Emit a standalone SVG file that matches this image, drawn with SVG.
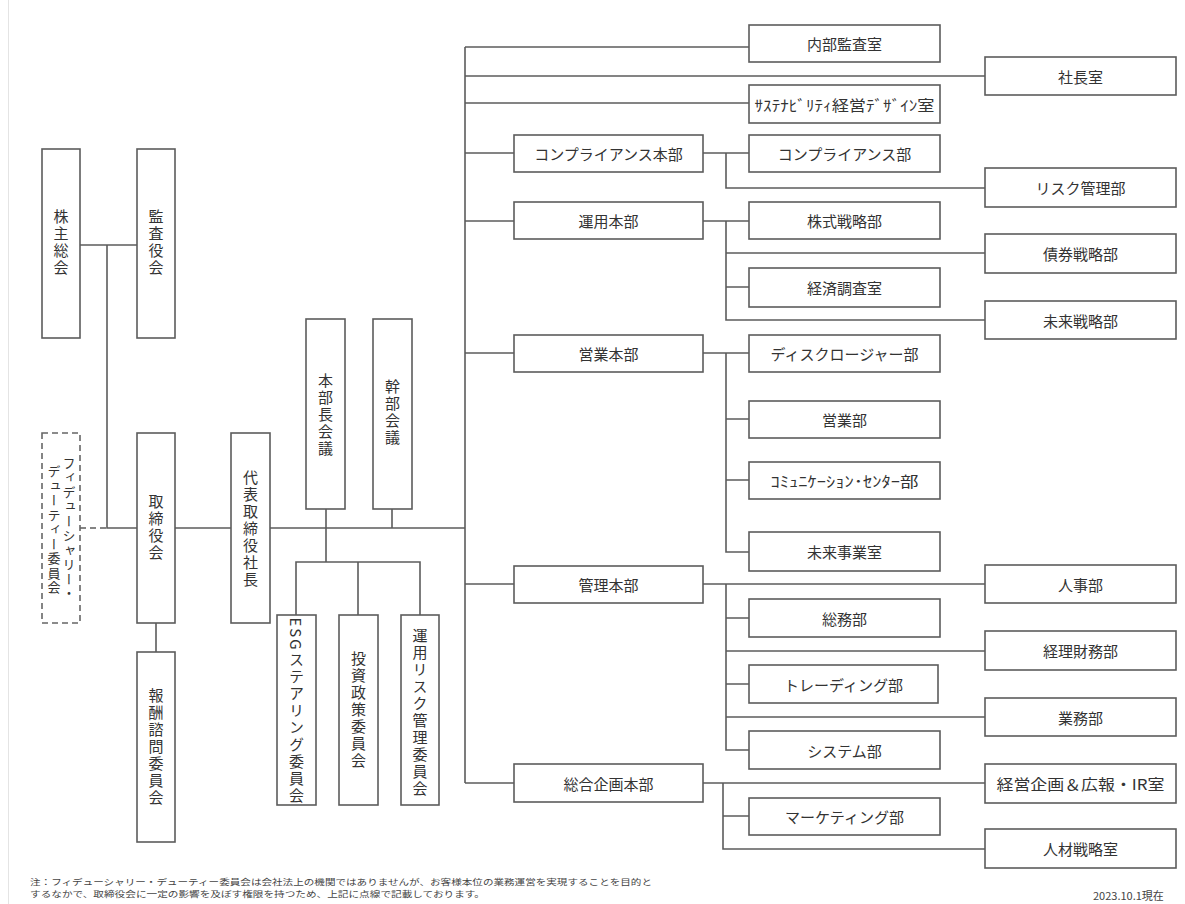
<svg xmlns="http://www.w3.org/2000/svg" width="1185" height="904" viewBox="0 0 1185 904">
<style>
.b{fill:#fff;stroke:#5c5c5c;stroke-width:1.6}
.d{fill:#fff;stroke:#666;stroke-width:1.6;stroke-dasharray:6 4}
.c{stroke:#5c5c5c;stroke-width:1.6;fill:none}
.t{font-family:"Noto Sans CJK JP","Noto Sans CJK SC",sans-serif;font-size:15px;fill:#333;text-anchor:middle;dominant-baseline:central}
.v{writing-mode:vertical-rl;letter-spacing:2px}
.n{font-family:"Noto Sans CJK JP","Noto Sans CJK SC",sans-serif;font-size:8.5px;fill:#444}
</style>
<rect width="1185" height="904" fill="#fff"/>
<line x1="8.5" y1="0" x2="8.5" y2="904" stroke="#e4e4e4" stroke-width="1"/>
<g id="connectors">
<path class="c" d="M80 245H137M107 245V528H137M156 623V652M175 528H231M270 528H465M326 509V562M392 509V528M296 615V562H420V615M358 562V615"/>
<path class="c" d="M80 528H107" stroke-dasharray="6 4"/>
<path class="c" d="M465 47V783M465 47H749M465 76H985M465 103H749M465 153H514M465 221H514M465 353H514M465 584H514M465 783H514"/>
<path class="c" d="M703 153H749M726 153V188H985M703 221H749M726 221V320H985M726 253H985M726 287H749M703 353H749M726 353V552H749M726 419H749M726 480H749M703 584H985M726 584V750H749M726 618H749M726 651H985M726 684H749M726 717H985M703 783H985M723 783V849H985M723 816H749"/>
</g>
<g id="kabunushi"><rect class="b" x="42" y="149" width="38" height="189"/><text class="t v" x="61" y="243">株主総会</text></g>
<g id="kansayaku"><rect class="b" x="137" y="149" width="38" height="189"/><text class="t v" x="156" y="243">監査役会</text></g>
<g id="fiduciary"><rect class="d" x="42" y="433" width="38" height="190"/><text class="t v" x="69" y="529" style="font-size:13px;letter-spacing:1.5px">フィデューシャリー・</text><text class="t v" x="54" y="530" style="font-size:13px;letter-spacing:1.5px">デューティー委員会</text></g>
<g id="torishimariyaku"><rect class="b" x="137" y="433" width="38" height="190"/><text class="t v" x="156" y="528">取締役会</text></g>
<g id="hoshu"><rect class="b" x="137" y="652" width="38" height="190"/><text class="t v" x="156" y="747">報酬諮問委員会</text></g>
<g id="shacho"><rect class="b" x="231" y="433" width="39" height="190"/><text class="t v" x="250.5" y="529">代表取締役社長</text></g>
<g id="honbucho"><rect class="b" x="306" y="319" width="39" height="190"/><text class="t v" x="325.5" y="415">本部長会議</text></g>
<g id="kanbu"><rect class="b" x="373" y="319" width="39" height="190"/><text class="t v" x="392.5" y="413">幹部会議</text></g>
<g id="esg"><rect class="b" x="277" y="615" width="39" height="190"/><text class="t v" x="296.5" y="711">ESGステアリング委員会</text></g>
<g id="toshi"><rect class="b" x="339" y="615" width="39" height="190"/><text class="t v" x="358.5" y="710">投資政策委員会</text></g>
<g id="unyorisk"><rect class="b" x="401" y="615" width="38" height="190"/><text class="t v" x="420" y="713">運用リスク管理委員会</text></g>
<g id="naibu"><rect class="b" x="749" y="25" width="191" height="37"/><text class="t" x="844.5" y="43.5">内部監査室</text></g>
<g id="shachoshitsu"><rect class="b" x="985" y="57" width="191" height="38"/><text class="t" x="1080.5" y="76">社長室</text></g>
<g id="sustainability"><rect class="b" x="749" y="85" width="191" height="38"/><text class="t" x="844.5" y="104" textLength="180" lengthAdjust="spacingAndGlyphs">ｻｽﾃﾅﾋﾞﾘﾃｨ経営ﾃﾞｻﾞｲﾝ室</text></g>
<g id="compliance-hq"><rect class="b" x="514" y="135" width="189" height="37"/><text class="t" x="608.5" y="153.5">コンプライアンス本部</text></g>
<g id="compliance"><rect class="b" x="749" y="135" width="191" height="37"/><text class="t" x="844.5" y="153.5">コンプライアンス部</text></g>
<g id="risk"><rect class="b" x="985" y="168" width="191" height="39"/><text class="t" x="1080.5" y="187.5">リスク管理部</text></g>
<g id="unyo-hq"><rect class="b" x="514" y="202" width="189" height="37"/><text class="t" x="608.5" y="220.5">運用本部</text></g>
<g id="kabushiki"><rect class="b" x="749" y="202" width="191" height="37"/><text class="t" x="844.5" y="220.5">株式戦略部</text></g>
<g id="saiken"><rect class="b" x="985" y="234" width="191" height="39"/><text class="t" x="1080.5" y="253.5">債券戦略部</text></g>
<g id="keizai"><rect class="b" x="749" y="268" width="191" height="39"/><text class="t" x="844.5" y="287.5">経済調査室</text></g>
<g id="mirai-senryaku"><rect class="b" x="985" y="301" width="191" height="38"/><text class="t" x="1080.5" y="320">未来戦略部</text></g>
<g id="eigyo-hq"><rect class="b" x="514" y="335" width="189" height="37"/><text class="t" x="608.5" y="353.5">営業本部</text></g>
<g id="disclosure"><rect class="b" x="749" y="335" width="191" height="37"/><text class="t" x="844.5" y="353.5">ディスクロージャー部</text></g>
<g id="eigyo"><rect class="b" x="749" y="401" width="191" height="37"/><text class="t" x="844.5" y="419.5">営業部</text></g>
<g id="communication"><rect class="b" x="749" y="462" width="191" height="37"/><text class="t" x="844.5" y="480.5" textLength="148" lengthAdjust="spacingAndGlyphs">ｺﾐｭﾆｹｰｼｮﾝ･ｾﾝﾀｰ部</text></g>
<g id="mirai-jigyo"><rect class="b" x="749" y="532" width="191" height="39"/><text class="t" x="844.5" y="551.5">未来事業室</text></g>
<g id="kanri-hq"><rect class="b" x="514" y="566" width="189" height="37"/><text class="t" x="608.5" y="584.5">管理本部</text></g>
<g id="jinji"><rect class="b" x="985" y="565" width="191" height="38"/><text class="t" x="1080.5" y="584">人事部</text></g>
<g id="somu"><rect class="b" x="749" y="599" width="191" height="38"/><text class="t" x="844.5" y="618">総務部</text></g>
<g id="keiri"><rect class="b" x="985" y="631" width="191" height="39"/><text class="t" x="1080.5" y="650.5">経理財務部</text></g>
<g id="trading"><rect class="b" x="749" y="665" width="189" height="38"/><text class="t" x="843.5" y="684">トレーディング部</text></g>
<g id="gyomu"><rect class="b" x="985" y="698" width="191" height="38"/><text class="t" x="1080.5" y="717">業務部</text></g>
<g id="system"><rect class="b" x="749" y="731" width="191" height="38"/><text class="t" x="844.5" y="750">システム部</text></g>
<g id="sogo-hq"><rect class="b" x="514" y="764" width="189" height="38"/><text class="t" x="608.5" y="783">総合企画本部</text></g>
<g id="keiei"><rect class="b" x="985" y="764" width="191" height="39"/><text class="t" x="1080.5" y="783.5" textLength="168" lengthAdjust="spacingAndGlyphs">経営企画＆広報・IR室</text></g>
<g id="marketing"><rect class="b" x="749" y="798" width="191" height="37"/><text class="t" x="844.5" y="816.5">マーケティング部</text></g>
<g id="jinzai"><rect class="b" x="985" y="829" width="191" height="39"/><text class="t" x="1080.5" y="848.5">人材戦略室</text></g>
<text class="n" x="30" y="885" textLength="622" lengthAdjust="spacingAndGlyphs">注：フィデューシャリー・デューティー委員会は会社法上の機関ではありませんが、お客様本位の業務運営を実現することを目的と</text>
<text class="n" x="30" y="897" textLength="455" lengthAdjust="spacingAndGlyphs">するなかで、取締役会に一定の影響を及ぼす権限を持つため、上記に点線で記載しております。</text>
<text x="1093" y="900" style="font-family:'Noto Sans CJK JP',sans-serif;font-size:11px;fill:#444">2023.10.1現在</text>
</svg>
